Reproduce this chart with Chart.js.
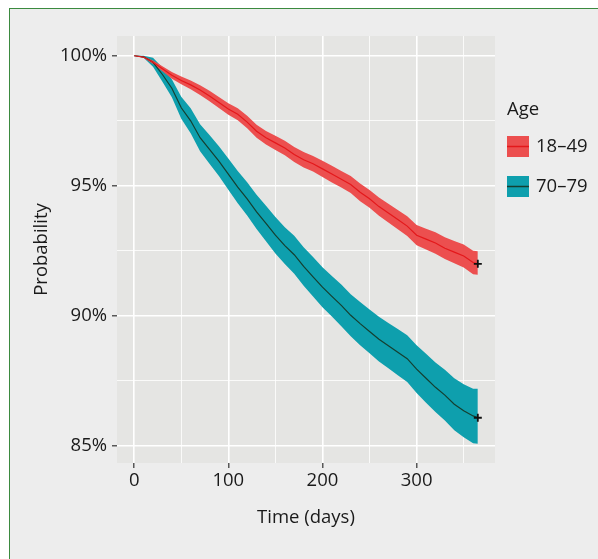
<!DOCTYPE html>
<html>
<head>
<meta charset="utf-8">
<script src="https://cdn.jsdelivr.net/npm/chart.js@4.4.0/dist/chart.umd.min.js"></script>
<style>
    html, body { margin: 0; padding: 0; background: #ffffff; }
    #marco {
        position: absolute; left: 9px; top: 8px; width: 640px; height: 600px;
        border-left: 1.5px solid #3b8a3f; border-top: 1.5px solid #3b8a3f;
        background: #ededed;
    }
    #grafica { position: absolute; left: 0; top: 0; }
</style>
</head>
<body>
<div id="marco"></div>
<canvas id="grafica" width="598" height="559"></canvas>
<script>
// DATOS

const dias = [0, 10, 20, 30, 40, 50, 60, 70, 80, 90, 100, 110, 120, 130, 140, 150, 160, 170, 180, 190,
    200, 210, 220, 230, 240, 250, 260, 270, 280, 290, 300, 310, 320, 330, 340, 350, 360, 365];

const grupos = ['18–49', '70–79'];

// 18-49
const jovenes = [100, 99.95, 99.75, 99.5, 99.25, 99.05, 98.88, 98.68, 98.45, 98.2, 97.95, 97.75, 97.45, 97.1,
    96.85, 96.65, 96.45, 96.2, 96.0, 95.85, 95.65, 95.45, 95.25, 95.05, 94.75, 94.5, 94.2, 93.95, 93.7,
    93.45, 93.1, 92.95, 92.8, 92.6, 92.45, 92.3, 92.05, 92.0];
const jovenesSup = [100, 99.98, 99.82, 99.6, 99.38, 99.2, 99.05, 98.87, 98.65, 98.41, 98.17, 97.98, 97.69, 97.35,
    97.11, 96.92, 96.73, 96.49, 96.3, 96.15, 95.96, 95.77, 95.57, 95.38, 95.09, 94.84, 94.55, 94.31, 94.07,
    93.83, 93.49, 93.35, 93.21, 93.02, 92.88, 92.74, 92.5, 92.48];
const jovenesInf = [100, 99.92, 99.68, 99.4, 99.12, 98.9, 98.71, 98.49, 98.25, 97.99, 97.73, 97.52, 97.21, 96.85,
    96.59, 96.38, 96.17, 95.91, 95.7, 95.55, 95.34, 95.13, 94.93, 94.72, 94.41, 94.16, 93.85, 93.59, 93.33,
    93.07, 92.71, 92.55, 92.39, 92.18, 92.02, 91.86, 91.6, 91.58];

// 70-79
const mayores = [100, 99.96, 99.75, 99.28, 98.75, 98.0, 97.5, 96.85, 96.4, 95.95, 95.45, 94.95, 94.5, 94.0,
    93.55, 93.1, 92.7, 92.35, 91.9, 91.5, 91.1, 90.75, 90.4, 90.02, 89.7, 89.4, 89.1, 88.85, 88.6,
    88.35, 87.95, 87.6, 87.25, 86.95, 86.6, 86.35, 86.15, 86.08];
const mayoresSup = [100, 100, 99.92, 99.55, 99.1, 98.42, 97.98, 97.37, 96.95, 96.52, 96.05, 95.57, 95.14, 94.66,
    94.23, 93.8, 93.41, 93.08, 92.64, 92.26, 91.87, 91.53, 91.2, 90.83, 90.53, 90.24, 89.96, 89.72, 89.49,
    89.25, 88.87, 88.54, 88.2, 87.93, 87.6, 87.37, 87.2, 87.2];
const mayoresInf = [100, 99.92, 99.58, 99.0, 98.4, 97.58, 97.02, 96.33, 95.85, 95.38, 94.85, 94.33, 93.86, 93.34,
    92.87, 92.4, 91.99, 91.62, 91.16, 90.74, 90.33, 89.97, 89.6, 89.21, 88.87, 88.56, 88.24, 87.98, 87.71,
    87.45, 87.03, 86.66, 86.3, 85.97, 85.6, 85.33, 85.1, 85.08];

const ticksX = [0, 100, 200, 300];
const ticksXMenores = [50, 150, 250, 350];
const ticksY = [85, 90, 95, 100];
const ticksYMenores = [87.5, 92.5, 97.5];


// COLORES

const rojoBanda = '#ec4f4f';
const rojoLinea = '#e4181b';
const azulBanda = '#0e9fad';
const azulLinea = '#153f30';
const fuente = "'Open Sans'";


// UTILIDADES

const puntos = (valores) => dias.map((d, i) => ({ x: d, y: valores[i] }));

const ultimo = (valores) => [{ x: dias[dias.length - 1], y: valores[valores.length - 1] }];

const esMayor = (ctx, mayores) => ctx.tick && mayores.includes(ctx.tick.value);


// PLUGINS

const fondoPanel = {
    id: 'fondoPanel',
    beforeDraw(chart) {
        const { ctx, chartArea: a } = chart;
        ctx.save();
        ctx.fillStyle = '#e5e5e3';
        ctx.fillRect(a.left, a.top, a.right - a.left, a.bottom - a.top);
        ctx.restore();
    }
};

const leyenda = {
    id: 'leyenda',
    afterDraw(chart) {
        const { ctx } = chart;
        const claves = [[rojoBanda, rojoLinea], [azulBanda, azulLinea]];
        ctx.save();
        ctx.font = "18.5px " + fuente;
        ctx.fillStyle = '#1a1a1a';
        ctx.textBaseline = 'middle';
        ctx.textAlign = 'left';
        ctx.fillText('Age', 507, 110);
        grupos.forEach((g, i) => {
            const y = 136 + i * 40;
            ctx.fillStyle = claves[i][0];
            ctx.fillRect(507, y, 22, 21);
            ctx.strokeStyle = claves[i][1];
            ctx.lineWidth = 1.5;
            ctx.beginPath();
            ctx.moveTo(507, y + 10.5);
            ctx.lineTo(529, y + 10.5);
            ctx.stroke();
            ctx.fillStyle = '#1a1a1a';
            ctx.fillText(g, 536, y + 11);
        });
        ctx.restore();
    }
};


// GRAFICA

Chart.defaults.font.family = fuente;
Chart.defaults.font.size = 18.5;
Chart.defaults.color = '#1a1a1a';

const banda = (valores, color, relleno) => ({
    data: puntos(valores),
    borderWidth: 0,
    borderColor: color,
    backgroundColor: color,
    pointRadius: 0,
    fill: relleno,
    order: 2
});

const linea = (valores, color) => ({
    data: puntos(valores),
    borderWidth: 1.2,
    borderColor: color,
    pointRadius: 0,
    fill: false,
    order: 1
});

const censura = (valores) => ({
    data: ultimo(valores),
    showLine: false,
    pointStyle: 'cross',
    pointRadius: 4,
    borderColor: '#111111',
    borderWidth: 1.8,
    order: 0
});

new Chart(document.getElementById('grafica'), {
    type: 'line',
    data: {
        datasets: [
            banda(jovenesInf, rojoBanda, false),
            banda(jovenesSup, rojoBanda, '-1'),
            banda(mayoresInf, azulBanda, false),
            banda(mayoresSup, azulBanda, '-1'),
            linea(jovenes, rojoLinea),
            linea(mayores, azulLinea),
            censura(jovenes),
            censura(mayores)
        ]
    },
    options: {
        responsive: false,
        animation: false,
        layout: { padding: { left: 31, right: 103, top: 36, bottom: 30 } },
        plugins: {
            legend: { display: false },
            tooltip: { enabled: false }
        },
        scales: {
            x: {
                type: 'linear',
                min: -18.25,
                max: 383.25,
                afterBuildTicks: (s) => {
                    s.ticks = [...ticksX, ...ticksXMenores].sort((a, b) => a - b).map(v => ({ value: v }));
                },
                afterFit: (s) => { s.height = 66; },
                ticks: {
                    autoSkip: false,
                    maxRotation: 0,
                    padding: 2,
                    callback: (v) => ticksX.includes(v) ? String(v) : ''
                },
                grid: {
                    color: '#ffffff',
                    lineWidth: (ctx) => esMayor(ctx, ticksX) ? 1.6 : 0.8,
                    tickColor: (ctx) => esMayor(ctx, ticksX) ? '#333333' : 'rgba(0,0,0,0)',
                    tickLength: 5,
                    tickWidth: 1.2
                },
                border: { display: false },
                title: { display: true, text: 'Time (days)', padding: 0 }
            },
            y: {
                min: 84.34,
                max: 100.76,
                afterBuildTicks: (s) => {
                    s.ticks = [...ticksY, ...ticksYMenores].sort((a, b) => a - b).map(v => ({ value: v }));
                },
                afterFit: (s) => { s.width = 86; },
                ticks: {
                    autoSkip: false,
                    padding: 5,
                    callback: (v) => ticksY.includes(v) ? v + '%' : ''
                },
                grid: {
                    color: '#ffffff',
                    lineWidth: (ctx) => esMayor(ctx, ticksY) ? 1.6 : 0.8,
                    tickColor: (ctx) => esMayor(ctx, ticksY) ? '#333333' : 'rgba(0,0,0,0)',
                    tickLength: 5,
                    tickWidth: 1.2
                },
                border: { display: false },
                title: { display: true, text: 'Probability', padding: 0 }
            }
        }
    },
    plugins: [fondoPanel, leyenda]
});
</script>
</body>
</html>
